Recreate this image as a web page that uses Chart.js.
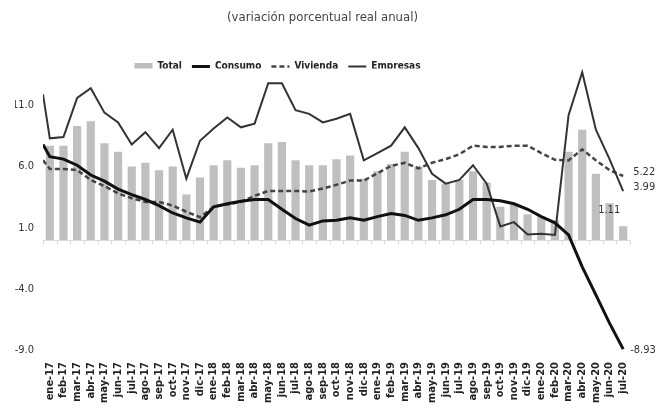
<!DOCTYPE html>
<html>
<head>
<meta charset="utf-8">
<script src="https://cdn.jsdelivr.net/npm/chart.js@4.4.0/dist/chart.umd.min.js"></script>
<style>
  html, body { margin: 0; padding: 0; background: #fff; }
  #wrap { width: 658px; height: 419px; }
</style>
</head>
<body>
<div id="wrap"><canvas id="grafica" width="658" height="419"></canvas></div>
<script>
// meses del eje x
const meses = [
  "ene-17", "feb-17", "mar-17", "abr-17", "may-17", "jun-17", "jul-17", "ago-17", "sep-17", "oct-17", "nov-17", "dic-17",
  "ene-18", "feb-18", "mar-18", "abr-18", "may-18", "jun-18", "jul-18", "ago-18", "sep-18", "oct-18", "nov-18", "dic-18",
  "ene-19", "feb-19", "mar-19", "abr-19", "may-19", "jun-19", "jul-19", "ago-19", "sep-19", "oct-19", "nov-19", "dic-19",
  "ene-20", "feb-20", "mar-20", "abr-20", "may-20", "jun-20", "jul-20"
];

// barras (Total)
const total = [
  7.7, 7.7, 9.3, 9.7, 7.9, 7.2, 6.0, 6.3, 5.7, 6.0, 3.7, 5.1,
  6.1, 6.5, 5.9, 6.1, 7.9, 8.0, 6.5, 6.1, 6.1, 6.6, 6.9, 5.0,
  5.6, 6.2, 7.2, 6.0, 4.9, 4.6, 4.9, 5.6, 4.7, 2.7, 2.95, 2.1,
  1.9, 1.6, 7.2, 9.0, 5.4, 3.0, 1.11
];

// las lineas traen un valor extra al inicio, pegado al borde izquierdo
const consumo = [
  7.8,
  6.8, 6.6, 6.1, 5.3, 4.8, 4.15, 3.7, 3.3, 2.8, 2.2, 1.8, 1.45,
  2.7, 2.95, 3.15, 3.3, 3.3, 2.5, 1.75, 1.2, 1.55, 1.6, 1.8, 1.6,
  1.9, 2.15, 2.0, 1.6, 1.8, 2.05, 2.5, 3.3, 3.3, 3.2, 2.95, 2.5,
  1.9, 1.4, 0.4, -2.2, -4.5, -6.8, -8.93
];

const vivienda = [
  6.5,
  5.8, 5.8, 5.7, 4.9, 4.4, 3.8, 3.4, 3.1, 3.1, 2.8, 2.3, 1.85,
  2.7, 2.9, 3.1, 3.6, 4.0, 4.0, 4.0, 3.95, 4.2, 4.5, 4.85, 4.85,
  5.45, 6.05, 6.3, 5.85, 6.3, 6.6, 7.0, 7.7, 7.6, 7.6, 7.7, 7.7,
  7.1, 6.55, 6.5, 7.4, 6.5, 5.7, 5.22
];

const empresas = [
  11.9,
  8.3, 8.4, 11.6, 12.4, 10.4, 9.6, 7.8, 8.8, 7.5, 9.0, 5.0, 8.1,
  9.1, 10.0, 9.2, 9.5, 12.8, 12.8, 10.6, 10.3, 9.6, 9.9, 10.3, 6.5,
  7.1, 7.7, 9.2, 7.5, 5.4, 4.6, 4.9, 6.1, 4.6, 1.1, 1.45, 0.45,
  0.5, 0.4, 10.2, 13.7, 9.0, 6.6, 3.99
];

// marcas del eje y
const marcasY = [-9, -4, 1, 6, 11];

const fuente = "'DejaVu Sans Condensed', 'DejaVu Sans', sans-serif";

// posicion x de cada mes (el primer punto de las lineas va medio mes antes)
const posBarra = meses.map(function (m, i) { return i; });
const posLinea = [-0.5].concat(posBarra);

function puntos(xs, ys) {
  return xs.map(function (x, i) { return { x: x, y: ys[i] }; });
}


// linea del cero con sus marquitas
const ejeCero = {
  id: "ejeCero",
  beforeDatasetsDraw(chart) {
    const ctx = chart.ctx;
    const x = chart.scales.x;
    const y = chart.scales.y;
    const y0 = Math.round(y.getPixelForValue(0)) + 0.5;
    ctx.save();
    ctx.strokeStyle = "#d9d9d9";
    ctx.lineWidth = 1;
    ctx.beginPath();
    ctx.moveTo(x.getPixelForValue(-0.5), y0);
    ctx.lineTo(x.getPixelForValue(meses.length - 0.5), y0);
    for (let i = 0; i <= meses.length; i++) {
      const px = Math.round(x.getPixelForValue(i - 0.5)) + 0.5;
      ctx.moveTo(px, y0);
      ctx.lineTo(px, y0 + 4);
    }
    ctx.stroke();
    ctx.restore();
  }
};

// etiqueta del ultimo valor de cada serie
const etiquetas = {
  id: "etiquetas",
  afterDatasetsDraw(chart) {
    const ctx = chart.ctx;
    ctx.save();
    ctx.font = "11px " + fuente;
    ctx.fillStyle = "#333";
    ctx.textBaseline = "middle";
    chart.data.datasets.forEach(function (ds, i) {
      const e = ds.etiqueta;
      if (!e) return;
      const meta = chart.getDatasetMeta(i);
      const p = meta.data[meta.data.length - 1];
      const v = ds.data[ds.data.length - 1].y;
      ctx.textAlign = e.align;
      ctx.fillText(v.toFixed(2), p.x + e.dx, p.y + e.dy);
    });
    ctx.restore();
  }
};

// la leyenda va corrida a la izquierda
const moverLeyenda = {
  id: "moverLeyenda",
  afterLayout(chart) {
    chart.legend.left -= 45;
    chart.legend.right -= 45;
  }
};


new Chart(document.getElementById("grafica"), {
  type: "bar",
  data: {
    datasets: [
      {
        type: "bar",
        label: "Total",
        data: puntos(posBarra, total),
        backgroundColor: "#bfbfbf",
        barPercentage: 0.6,
        categoryPercentage: 1,
        order: 4,
        etiqueta: { dx: -3, dy: -16, align: "right" }
      },
      {
        type: "line",
        label: "Consumo",
        data: puntos(posLinea, consumo),
        borderColor: "#111",
        borderWidth: 3,
        pointRadius: 0,
        tension: 0,
        order: 1,
        etiqueta: { dx: 7, dy: 1, align: "left" }
      },
      {
        type: "line",
        label: "Vivienda",
        data: puntos(posLinea, vivienda),
        borderColor: "#444",
        borderWidth: 2.5,
        borderDash: [5, 3],
        pointRadius: 0,
        tension: 0,
        order: 3,
        etiqueta: { dx: 10, dy: -4, align: "left" }
      },
      {
        type: "line",
        label: "Empresas",
        data: puntos(posLinea, empresas),
        borderColor: "#333",
        borderWidth: 2,
        pointRadius: 0,
        tension: 0,
        order: 2,
        etiqueta: { dx: 10, dy: -4, align: "left" }
      }
    ]
  },
  options: {
    responsive: false,
    animation: false,
    devicePixelRatio: 1,
    events: [],
    layout: { autoPadding: false, padding: { left: 15, right: 28, top: 0, bottom: 0 } },
    plugins: {
      tooltip: { enabled: false },
      title: {
        display: true,
        text: "(variación porcentual real anual)",
        color: "#444",
        font: { family: fuente, size: 13, weight: "normal" },
        padding: { top: 10, bottom: 26 }
      },
      legend: {
        display: true,
        position: "top",
        maxHeight: 17,
        labels: {
          usePointStyle: true,
          pointStyleWidth: 18,
          boxHeight: 7,
          padding: 10,
          color: "#222",
          font: { family: fuente, size: 10, weight: "bold" },
          sort: function (a, b) { return a.datasetIndex - b.datasetIndex; },
          generateLabels(chart) {
            const items = Chart.defaults.plugins.legend.labels.generateLabels(chart);
            items.forEach(function (it) {
              const ds = chart.data.datasets[it.datasetIndex];
              if (ds.type === "bar") {
                it.pointStyle = "rect";
                it.lineWidth = 0;
              } else {
                it.pointStyle = "line";
                it.lineWidth = ds.borderWidth;
                it.strokeStyle = ds.borderColor;
                it.lineDash = ds.borderDash || [];
              }
            });
            return items;
          }
        }
      }
    },
    scales: {
      x: {
        type: "linear",
        min: -0.5,
        max: meses.length - 0.5,
        offset: false,
        grid: { display: false, drawTicks: false },
        border: { display: false },
        afterBuildTicks(s) {
          s.ticks = posBarra.map(function (v) { return { value: v }; });
        },
        afterFit(s) { s.height = 69; },
        ticks: {
          autoSkip: false,
          minRotation: 90,
          maxRotation: 90,
          padding: 12,
          color: "#222",
          font: { family: "'DejaVu Sans Condensed', 'DejaVu Sans'", size: 11, weight: "bold" },
          callback: function (v) { return meses[v]; }
        }
      },
      y: {
        min: -9,
        max: 14,
        grid: { display: false, drawTicks: false },
        border: { display: false },
        afterBuildTicks(s) {
          s.ticks = marcasY.map(function (v) { return { value: v }; });
        },
        afterFit(s) { s.width = 28; },
        ticks: {
          padding: 9,
          color: "#333",
          font: { family: fuente, size: 11 },
          callback: function (v) { return v.toFixed(1); }
        }
      }
    }
  },
  plugins: [ejeCero, etiquetas, moverLeyenda]
});
</script>
</body>
</html>
